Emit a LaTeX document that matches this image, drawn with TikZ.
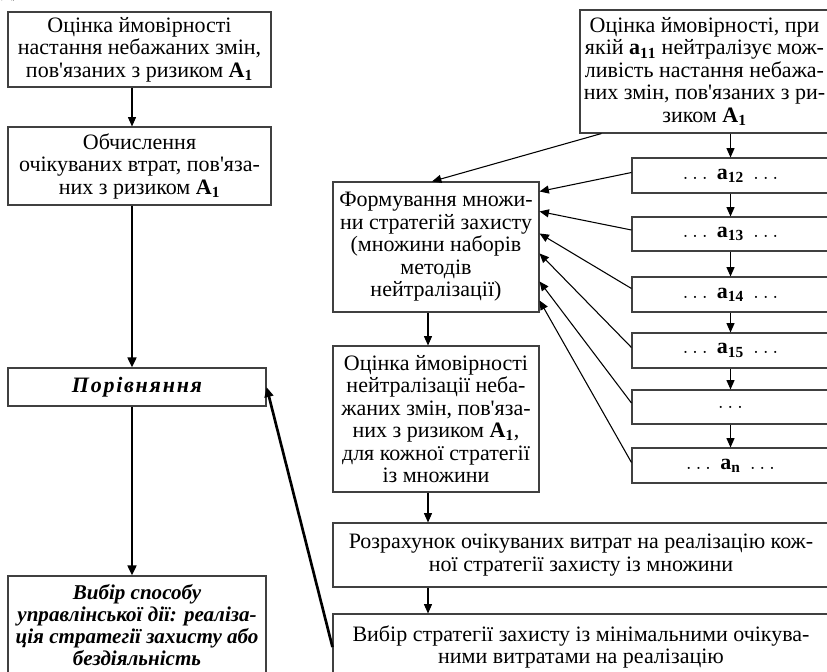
\RequirePackage{fix-cm}
\documentclass[tikz,border=0pt]{standalone}
\usepackage{fontspec}
\setmainfont{Liberation Serif}
\newfontfamily\aposfont{Liberation Serif}
\usetikzlibrary{arrows.meta,calc}
\newcommand{\Aone}{$\mathbf{A}_{\mathbf{1}}$}
\newcommand{\ap}{{\aposfont\char"27}}
\begin{document}
\begin{tikzpicture}[x=0.75pt,y=-0.75pt,
  box/.style={draw=black!75, line width=0.8pt, align=center, inner sep=0pt,
    font=\fontsize{16.5}{16.9}\selectfont},
  sz/.style 2 args={minimum width=#1*0.75pt, minimum height=#2*0.75pt},
  thin/.style={draw=black, line width=0.8pt, -{Triangle[length=7pt,width=6pt]}},
  thick/.style={draw=black, line width=2pt, -{Triangle[length=7.5pt,width=6.5pt]}},
  frag/.style={font=\fontsize{16.5}{16}\selectfont, inner sep=0pt}]
\useasboundingbox (0,0) rectangle (827,671);
\clip (0,0) rectangle (827,671);
% top-left fragment
\node[frag, anchor=base west] (fragm) at (1,-3) {д)};
% left column
\node[box, sz={263}{75}] (b1) at (139.5,49.5)
  {Оцінка ймовірності\\настання небажаних змін,\\пов\ap язаних з ризиком \Aone};
\node[box, sz={263}{78}] (b2) at (139.5,166)
  {Обчислення\\очікуваних втрат, пов\ap яза-\\них з ризиком \Aone};
\node[box, sz={258}{38}, font=\fontsize{16.5}{16}\selectfont\bfseries\itshape\addfontfeature{LetterSpace=8}] (cmp) at (137,387)
  {Порівняння};
\node[box, sz={258}{98}, font=\fontsize{15.8}{16.4}\selectfont\bfseries\itshape] (ch) at (137,625)
  {Вибір способу\\управлінської дії: реаліза-\\ція стратегії захисту або\\бездіяльність};
% right column
\node[box, sz={249}{123}] (tr) at (704.5,71.5)
  {Оцінка ймовірності, при\\якій $\mathbf{a}_{\mathbf{11}}$ нейтралізує мож-\\ливість настання небажа-\\них змін, пов\ap язаних з ри-\\зиком \Aone};
\node[box, sz={197}{35}] (a12) at (730.5,175.5) {$\ldots\ \mathbf{a}_{\mathbf{12}}\ \ldots$};
\node[box, sz={197}{34}] (a13) at (730.5,234) {$\ldots\ \mathbf{a}_{\mathbf{13}}\ \ldots$};
\node[box, sz={197}{35}] (a14) at (730.5,294.5) {$\ldots\ \mathbf{a}_{\mathbf{14}}\ \ldots$};
\node[box, sz={197}{35}] (a15) at (730.5,350.5) {$\ldots\ \mathbf{a}_{\mathbf{15}}\ \ldots$};
\node[box, sz={197}{34}] (ad) at (730.5,407) {$\ldots$};
\node[box, sz={197}{35}] (an) at (730.5,465.5) {$\ldots\ \mathbf{a}_{\mathbf{n}}\ \ldots$};
\node[box, sz={206}{130}] (fm) at (436,247)
  {Формування множи-\\ни стратегій захисту\\(множини наборів\\методів\\нейтралізації)};
\node[box, sz={206}{146}] (ne) at (436,419)
  {Оцінка ймовірності\\нейтралізації неба-\\жаних змін, пов\ap яза-\\них з ризиком \Aone,\\для кожної стратегії\\із множини};
\node[box, sz={496}{64}] (rc) at (581,555)
  {Розрахунок очікуваних витрат на реалізацію кож-\\ної стратегії захисту із множини};
\node[box, sz={496}{66}] (sel) at (581,647)
  {Вибір стратегії захисту із мінімальними очікува-\\ними витратами на реалізацію};
% helper coordinates for arrow columns
\coordinate (lx) at (132,0);
\coordinate (rx) at (428,0);
% left arrows
\draw[thin] (b1.south -| lx) -- (b2.north -| lx);
\draw[thick] (b2.south -| lx) -- (cmp.north -| lx);
\draw[thick] (cmp.south -| lx) -- (ch.north -| lx);
\draw[thick] (sel.west) -- (cmp.east);
% right chain
\draw[thin] (tr.south -| a12.north) -- (a12.north);
\draw[thin] (a12) -- (a13);
\draw[thin] (a13) -- (a14);
\draw[thin] (a14) -- (a15);
\draw[thin] (a15) -- (ad);
\draw[thin] (ad) -- (an);
\draw[thin] ($(tr.south west)+(22,0)$) -- ($(fm.north)+(-4,0)$);
\draw[thin] ($(a12.west)+(0,-3)$) -- ($(fm.north east)+(0,10)$);
\draw[thin] ($(a13.west)+(0,-4)$) -- ($(fm.north east)+(0,30)$);
\draw[thin] ($(a14.west)+(0,-6)$) -- ($(fm.north east)+(0,52)$);
\draw[thin] ($(a15.west)+(0,-3)$) -- ($(fm.north east)+(0,72)$);
\draw[thin] ($(ad.west)+(0,-4)$) -- ($(fm.north east)+(0,100)$);
\draw[thin] ($(an.west)+(0,-3)$) -- ($(fm.north east)+(0,119)$);
% middle arrows
\draw[thin] (fm.south -| rx) -- (ne.north -| rx);
\draw[thin] (ne.south -| rx) -- (rc.north -| rx);
\draw[thin] (rc.south -| rx) -- (sel.north -| rx);
\end{tikzpicture}
\end{document}
